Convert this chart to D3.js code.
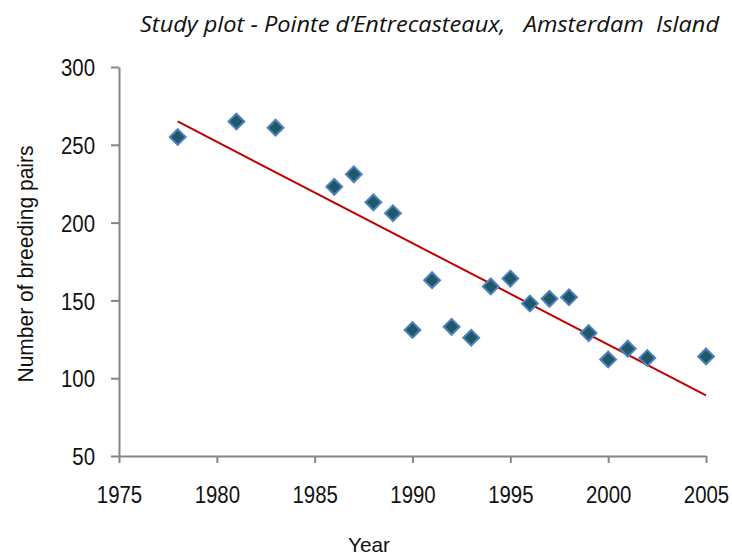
<!DOCTYPE html>
<html>
<head>
<meta charset="utf-8">
<script src="https://cdn.jsdelivr.net/npm/d3@7"></script>
<style>
  body { margin: 0; background: #fff; }
  svg { display: block; }
  .tick text { font-family: "Liberation Sans", Arial, sans-serif; font-size: 24px; fill: #111; }
</style>
</head>
<body>
<script>
// breeding pairs per year
var years = [1978, 1981, 1983, 1986, 1987, 1988, 1989, 1990, 1991, 1992, 1993,
             1994, 1995, 1996, 1997, 1998, 1999, 2000, 2001, 2002, 2005];
var pairs = [255, 265, 261, 223, 231, 213, 206, 131, 163, 133, 126,
             159, 164, 148, 151, 152, 129, 112, 119, 113, 114];
// linear trend line endpoints
var trendYears = [1978, 2005];
var trendPairs = [265, 89];
var xTicks = [1975, 1980, 1985, 1990, 1995, 2000, 2005];
var yTicks = [50, 100, 150, 200, 250, 300];

var width = 732;
var height = 557;
var squeeze = 0.85; // narrow-face look for the tick digits

var svg = d3.select('body').append('svg')
            .attr('width', width)
            .attr('height', height);

var x = d3.scaleLinear().domain([1975, 2005]).range([119, 706]);
var y = d3.scaleLinear().domain([50, 300]).range([456, 67]);

var xAxis = svg.append('g')
               .attr('transform', 'translate(0,' + y(50) + ')')
               .call(d3.axisBottom(x).tickValues(xTicks).tickFormat(d3.format('d'))
                       .tickSizeInner(7).tickSizeOuter(0).tickPadding(24));

var yAxis = svg.append('g')
               .attr('transform', 'translate(' + x(1975) + ',0)')
               .call(d3.axisLeft(y).tickValues(yTicks)
                       .tickSizeInner(8).tickSizeOuter(0).tickPadding(16));

svg.selectAll('.domain, .tick line')
   .attr('stroke', '#868686')
   .attr('stroke-width', 2);

xAxis.selectAll('.tick text')
     .attr('dy', '0.68em')
     .attr('transform', 'scale(' + squeeze + ',1)');

yAxis.selectAll('.tick text')
     .attr('dy', '0.36em')
     .attr('x', -24 / squeeze)
     .attr('transform', 'scale(' + squeeze + ',1)');

// trend line
var line = d3.line()
             .x(function(d) { return x(d[0]); })
             .y(function(d) { return y(d[1]); });

svg.append('path')
   .datum(d3.zip(trendYears, trendPairs))
   .attr('d', line)
   .attr('fill', 'none')
   .attr('stroke', '#c00000')
   .attr('stroke-width', 2);

// diamond markers
var diamond = d3.symbol().type(d3.symbolSquare).size(125);

svg.selectAll('.pt').data(d3.zip(years, pairs))
   .enter()
   .append('path')
   .attr('class', 'pt')
   .attr('d', diamond)
   .attr('transform', function(d) {
     return 'translate(' + x(d[0]) + ',' + y(d[1]) + ') rotate(45)';
   })
   .attr('fill', '#1f5869')
   .attr('stroke', '#4f81bd')
   .attr('stroke-width', 2);

// titles
svg.append('text')
   .attr('x', 140)
   .attr('y', 32)
   .attr('textLength', 579)
   .attr('lengthAdjust', 'spacingAndGlyphs')
   .style('font-family', '"Open Sans", sans-serif')
   .style('font-style', 'italic')
   .style('font-size', '22px')
   .style('fill', '#111')
   .style('white-space', 'pre')
   .text('Study plot - Pointe d\u2019Entrecasteaux,   Amsterdam  Island');

svg.append('text')
   .attr('x', 369)
   .attr('y', 552)
   .attr('text-anchor', 'middle')
   .attr('textLength', 42)
   .attr('lengthAdjust', 'spacingAndGlyphs')
   .style('font-family', '"Liberation Sans", sans-serif')
   .style('font-size', '21px')
   .style('fill', '#111')
   .text('Year');

svg.append('text')
   .attr('transform', 'translate(33,264) rotate(-90)')
   .attr('text-anchor', 'middle')
   .attr('textLength', 237)
   .attr('lengthAdjust', 'spacingAndGlyphs')
   .style('font-family', '"Liberation Sans", sans-serif')
   .style('font-size', '22px')
   .style('fill', '#111')
   .text('Number of breeding pairs');
</script>
</body>
</html>
